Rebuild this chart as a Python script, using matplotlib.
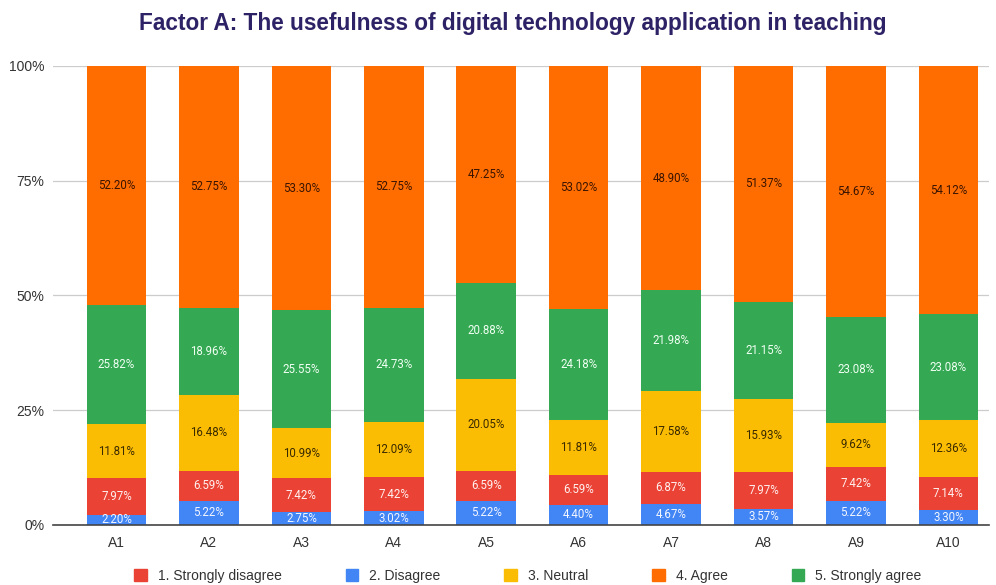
import matplotlib
matplotlib.use('Agg')
import matplotlib.pyplot as plt
from matplotlib import ticker
from matplotlib.patches import Patch

items = ['A1', 'A2', 'A3', 'A4', 'A5', 'A6', 'A7', 'A8', 'A9', 'A10']
strongly_disagree = [7.97, 6.59, 7.42, 7.42, 6.59, 6.59, 6.87, 7.97, 7.42, 7.14]
disagree = [2.20, 5.22, 2.75, 3.02, 5.22, 4.40, 4.67, 3.57, 5.22, 3.30]
neutral = [11.81, 16.48, 10.99, 12.09, 20.05, 11.81, 17.58, 15.93, 9.62, 12.36]
agree = [52.20, 52.75, 53.30, 52.75, 47.25, 53.02, 48.90, 51.37, 54.67, 54.12]
strongly_agree = [25.82, 18.96, 25.55, 24.73, 20.88, 24.18, 21.98, 21.15, 23.08, 23.08]

RED = '#ea4335'
BLUE = '#4285f4'
YELLOW = '#fbbc04'
ORANGE = '#ff6d01'
GREEN = '#34a853'

# drawn bottom to top: (values, colour, label text colour)
stack = [
    (disagree, BLUE, '#f2f6ff'),
    (strongly_disagree, RED, '#fff0ee'),
    (neutral, YELLOW, '#3a2a00'),
    (strongly_agree, GREEN, '#f0fff2'),
    (agree, ORANGE, '#3a1400'),
]

fig = plt.figure(figsize=(9.96, 5.85), dpi=100)
ax = fig.add_axes([0.053, 0.1026, 0.94, 0.785])

x = list(range(len(items)))
bottom = [0.0] * len(items)
for values, color, text_color in stack:
    ax.bar(x, values, bottom=bottom, width=0.645, color=color, zorder=2)
    for i, v in enumerate(values):
        ax.text(i, bottom[i] + v / 2, f'{v:.2f}%', ha='center', va='center',
                fontsize=8.3, color=text_color, family='Roboto', zorder=3)
    bottom = [b + v for b, v in zip(bottom, values)]

ax.set_xlim(-0.69, 9.44)
ax.set_ylim(0, 100)
ax.set_yticks([0, 25, 50, 75, 100])
ax.yaxis.set_major_formatter(ticker.FuncFormatter(lambda v, pos: f'{v:.0f}%'))
ax.set_xticks(x)
ax.set_xticklabels(items)
ax.tick_params(axis='both', length=0, labelsize=10, colors='#333333')
ax.tick_params(axis='x', pad=8)
ax.tick_params(axis='y', pad=6)
for label in ax.get_xticklabels() + ax.get_yticklabels():
    label.set_family('Liberation Sans')
ax.yaxis.grid(True, color='#cccccc', linewidth=0.9, zorder=0)
for side in ['top', 'right', 'left']:
    ax.spines[side].set_visible(False)
ax.spines['bottom'].set_color('#444444')
ax.spines['bottom'].set_linewidth(1.2)
ax.spines['bottom'].set_zorder(4)

fig.text(0.515, 0.960, 'Factor A: The usefulness of digital technology application in teaching',
         ha='center', va='center', fontsize=16.3, fontweight='bold',
         color='#2e2266', family='Liberation Sans')

handles = [
    Patch(color=RED, label='1. Strongly disagree'),
    Patch(color=BLUE, label='2. Disagree'),
    Patch(color=YELLOW, label='3. Neutral'),
    Patch(color=ORANGE, label='4. Agree'),
    Patch(color=GREEN, label='5. Strongly agree'),
]
fig.legend(handles=handles, loc='center', bbox_to_anchor=(0.53, 0.016), ncol=5,
           frameon=False, handlelength=0.9, handleheight=0.9, handletextpad=0.8,
           columnspacing=4.6, prop={'family': 'Liberation Sans', 'size': 10},
           labelcolor='#333333')

fig.savefig('out.png', dpi=100, facecolor='white')
